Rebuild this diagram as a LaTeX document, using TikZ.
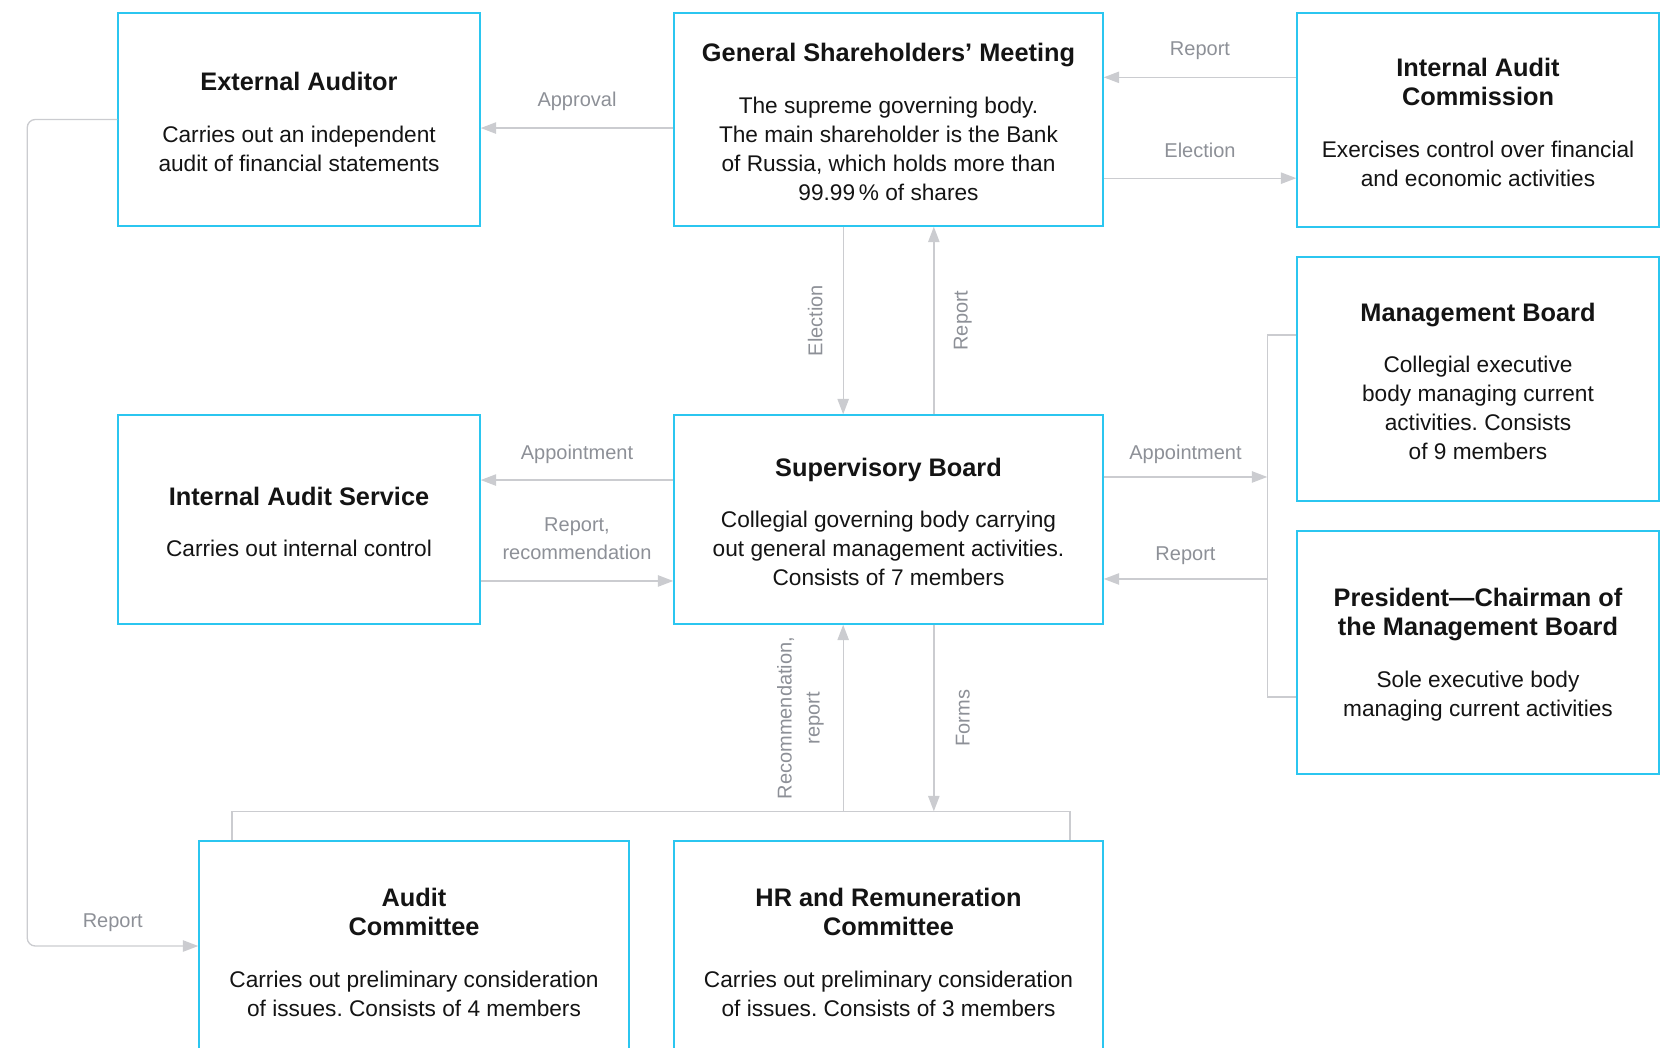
\documentclass[tikz,border=0pt]{standalone}
\usepackage{fontspec}
\setmainfont{Liberation Sans}
\usetikzlibrary{positioning,arrows.meta,calc}
\definecolor{boxCyan}{HTML}{2BC6F0}
\definecolor{linkGray}{HTML}{CBCCD0}
\definecolor{labelGray}{HTML}{8D9097}
\definecolor{inkBlack}{HTML}{141414}
\tikzset{
    orgbox/.style={draw=boxCyan,fill=white,line width=1.1pt,inner sep=0pt,
        align=center,text=inkBlack,font=\fontsize{17}{21.75}\selectfont\frenchspacing},
    sidebox/.style={orgbox,minimum width=271.5pt},
    midbox/.style={orgbox,minimum width=321.75pt},
    link/.style={-{Triangle[length=11.5pt,width=8.5pt]},draw=linkGray,line width=1pt},
    linklabel/.style={text=labelGray,inner sep=0pt,align=center,
        font=\fontsize{15}{21}\selectfont}
}
\newcommand{\orgtitle}[1]{{\fontsize{19}{21.75}\selectfont\bfseries #1}}
\newcommand{\orgtop}{\rule{0pt}{17.5pt}}

\begin{document}
\begin{tikzpicture}[x=0.75pt,y=-0.75pt]
    \useasboundingbox (0,0) rectangle (1671,1047);
    \clip (0,0) rectangle (1671,1047);
    % bodies
    \node[sidebox,minimum height=159.75pt] (ea) at (299,119.5) {
        \orgtop\orgtitle{External Auditor}\\[17pt]
        Carries out an independent\\audit of financial statements};
    \node[midbox,minimum height=159.75pt] (gsm) at (888.5,119.5) {
        \orgtop\orgtitle{General Shareholders’ Meeting}\\[17pt]
        The supreme governing body.\\The main shareholder is the Bank\\
        of Russia, which holds more than\\99.99\,\% of shares};
    \node[sidebox,minimum height=160.5pt] (iac) at (1478,120) {
        \orgtop\orgtitle{Internal Audit}\\\orgtitle{Commission}\\[17pt]
        Exercises control over financial\\and economic activities};
    \node[sidebox,minimum height=183pt] (mb) at (1478,379) {
        \orgtop\orgtitle{Management Board}\\[17pt]
        Collegial executive\\body managing current\\activities. Consists\\of 9 members};
    \node[sidebox,minimum height=182.25pt] (pres) at (1478,652.5) {
        \orgtop\orgtitle{President—Chairman of}\\\orgtitle{the Management Board}\\[17pt]
        Sole executive body\\managing current activities};
    \node[sidebox,minimum height=156.75pt] (ias) at (299,519.5) {
        \orgtop\orgtitle{Internal Audit Service}\\[17pt]
        Carries out internal control};
    \node[midbox,minimum height=156.75pt] (sb) at (888.5,519.5) {
        \orgtop\orgtitle{Supervisory Board}\\[17pt]
        Collegial governing body carrying\\out general management activities.\\
        Consists of 7 members};
    \node[orgbox,minimum width=322.5pt,minimum height=163.5pt] (ac) at (414,950) {
        \orgtop\orgtitle{Audit}\\\orgtitle{Committee}\\[17pt]
        Carries out preliminary consideration\\of issues. Consists of 4 members};
    \node[midbox,minimum height=163.5pt] (hr) at (888.5,950) {
        \orgtop\orgtitle{HR and Remuneration}\\\orgtitle{Committee}\\[17pt]
        Carries out preliminary consideration\\of issues. Consists of 3 members};

    % top row
    \coordinate[yshift=-6.4pt] (gsmapp) at (gsm.west);
    \draw[link] (gsmapp) -- node[linklabel,yshift=20pt]{Approval} (gsmapp -| ea.east);
    \coordinate[yshift=32pt] (iacrep) at (iac.west);
    \draw[link] (iacrep) -- node[linklabel,yshift=20pt]{Report} (iacrep -| gsm.east);
    \coordinate[yshift=-44pt] (gsmelec) at (gsm.east);
    \draw[link] (gsmelec) -- node[linklabel,yshift=21pt]{Election} (gsmelec -| iac.west);

    % meeting and board
    \coordinate[xshift=-34pt] (gsmdown) at (gsm.south);
    \draw[link] (gsmdown) -- node[linklabel,xshift=-21pt,rotate=90]{Election} (gsmdown |- sb.north);
    \coordinate[xshift=34pt] (sbup) at (sb.north);
    \draw[link] (sbup) -- node[linklabel,xshift=21.75pt,rotate=90]{Report} (sbup |- gsm.south);

    % board and audit service
    \coordinate[yshift=29.6pt] (sbapp) at (sb.west);
    \draw[link] (sbapp) -- node[linklabel,yshift=19.5pt]{Appointment} (sbapp -| ias.east);
    \coordinate[yshift=-46.1pt] (iasrep) at (ias.east);
    \draw[link] (iasrep) -- node[linklabel,yshift=31.5pt]{Report,\\recommendation} (iasrep -| sb.west);

    % board and management
    \coordinate[xshift=-21.75pt] (mgmtfork) at (mb.west |- sb.east);
    \coordinate[yshift=33pt] (mbin) at (mb.west);
    \coordinate[yshift=-33.4pt] (presin) at (pres.west);
    \draw[link,-] (mbin) -| (mgmtfork) |- (presin);
    \coordinate[yshift=31.9pt] (sbmgmt) at (sb.east);
    \draw[link] (sbmgmt) -- node[linklabel,yshift=17pt]{Appointment} (sbmgmt -| mgmtfork);
    \coordinate[yshift=-44.6pt] (mgmtrep) at (sb.east);
    \draw[link] (mgmtrep -| mgmtfork) -- node[linklabel,yshift=17.5pt]{Report} (mgmtrep);

    % committees
    \coordinate[yshift=21.75pt] (cmtfork) at (hr.north);
    \coordinate[xshift=-136.5pt] (acout) at (ac.north);
    \coordinate[xshift=136pt] (hrout) at (hr.north);
    \draw[link,-] (acout) |- (cmtfork) -| (hrout);
    \coordinate[xshift=-34pt] (cmtup) at (sb.south);
    \draw[link] (cmtup |- cmtfork) -- node[linklabel,xshift=-32pt,rotate=90]{Recommendation,\\report} (cmtup);
    \coordinate[xshift=34pt] (sbforms) at (sb.south);
    \draw[link] (sbforms) -- node[linklabel,xshift=21.75pt,rotate=90]{Forms} (sbforms |- cmtfork);

    % auditor to audit committee
    \coordinate[yshift=3pt] (acin) at (ac.west);
    \draw[link,rounded corners=6pt] (ea.west) -- ++(-67.5pt,0)
        |- node[linklabel,pos=0.75,yshift=17.5pt]{Report} (acin);
\end{tikzpicture}
\end{document}
